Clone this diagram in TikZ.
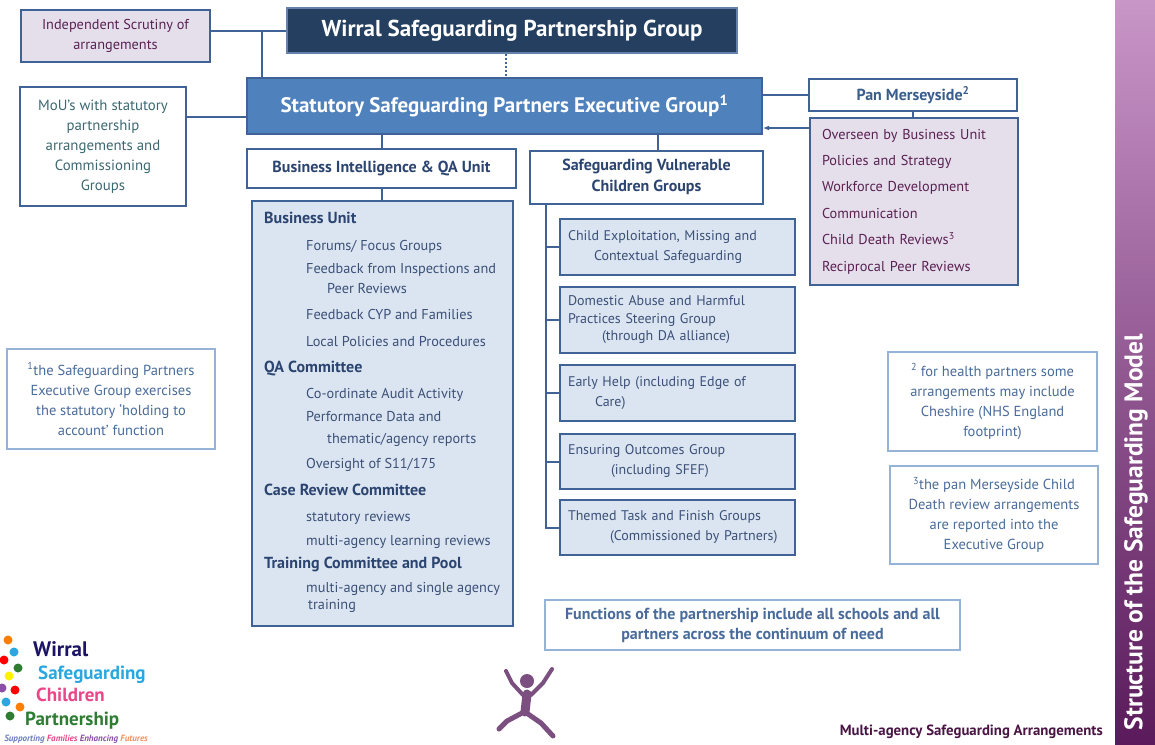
\documentclass[tikz,border=0pt]{standalone}
\usepackage{fontspec}
\setmainfont{PT Sans}
\usetikzlibrary{arrows.meta}

\definecolor{navy}{HTML}{243F60}
\definecolor{execblue}{HTML}{4F81BD}
\definecolor{edge}{HTML}{3F6396}
\definecolor{paleblue}{HTML}{DBE5F1}
\definecolor{lavender}{HTML}{E5DFEC}
\definecolor{plum}{HTML}{5A2152}
\definecolor{inktext}{HTML}{3C5078}
\definecolor{headtext}{HTML}{2B4470}
\definecolor{moutext}{HTML}{3D6870}
\definecolor{pantext}{HTML}{3A5E8C}
\definecolor{noteedge}{HTML}{95B3D7}
\definecolor{notetext}{HTML}{4A6C9B}
\definecolor{bandtop}{HTML}{C996C8}
\definecolor{bandbot}{HTML}{5A1A5B}
\definecolor{footer}{HTML}{4A1545}
\definecolor{jumper}{HTML}{7B4F80}
\definecolor{logonavy}{HTML}{1B1464}
\definecolor{logoblue}{HTML}{29A8E0}
\definecolor{logopink}{HTML}{E8488A}
\definecolor{logogreen}{HTML}{2E7D32}
\definecolor{logosteel}{HTML}{6A7FC0}
\definecolor{logopurple}{HTML}{8B4FA8}
\definecolor{logoorange}{HTML}{F39060}

\tikzset{
  box/.style={draw=edge, line width=2pt, inner sep=0pt, align=center,
    font=\fontsize{14.3}{20}\selectfont},
  group/.style={box, fill=paleblue, text=inktext, align=left,
    minimum width=235, text width=219, font=\fontsize{14}{20}\selectfont},
  note/.style={draw=noteedge, line width=1.5pt, inner sep=0pt, align=center,
    text=notetext, font=\fontsize{14.5}{20}\selectfont},
  link/.style={draw=edge, line width=2pt},
  head/.style={font=\bfseries\fontsize{19}{22}\selectfont, anchor=base west, inner sep=0pt}
}

\begin{document}
\begin{tikzpicture}[x=1pt,y=-1pt]
	\fill[white] (0,0) rectangle (1155,744);
	\useasboundingbox (0,0) rectangle (1155,744);

	% side band
	\fill[top color=bandtop, bottom color=bandbot] (1115,0) rectangle (1155,744);
	\node[rotate=90, text=white, font=\bfseries\fontsize{25.5}{28}\selectfont] (bandtitle) at (1136,532) {Structure of the Safeguarding Model};

	% top of the structure
	\node[box, fill=lavender, text=plum, minimum width=189, minimum height=52] (scrutiny) at (115.5,36) {Independent Scrutiny of\\arrangements};
	\node[box, fill=navy, draw=edge!80!white, text=white, minimum width=450, minimum height=45, font=\bfseries\fontsize{23}{26}\selectfont] (wsp) at (512,30.5) {Wirral Safeguarding Partnership Group};
	\node[box, fill=execblue, text=white, minimum width=515, minimum height=56, font=\bfseries\fontsize{21}{24}\selectfont] (exec) at (504.5,106) {Statutory Safeguarding Partners Executive Group\textsuperscript{1}};
	\node[box, text=moutext, font=\fontsize{14.8}{20}\selectfont, minimum width=166, minimum height=119] (mou) at (103,146.5) {MoU’s with statutory\\partnership\\arrangements and\\Commissioning\\Groups};

	% pan merseyside
	\node[box, text=pantext, minimum width=208, minimum height=32, font=\bfseries\fontsize{16}{18}\selectfont] (pan) at (913,95) {Pan Merseyside\textsuperscript{2}};
	\node[box, fill=lavender, text=plum, minimum width=208, minimum height=167, text width=184, align=left, font=\fontsize{14.3}{26.4}\selectfont] (panlist) at (914,201.5) {Overseen by Business Unit\\Policies and Strategy\\Workforce Development\\Communication\\Child Death Reviews\textsuperscript{3}\\Reciprocal Peer Reviews};

	% business intelligence column
	\node[box, text=headtext, minimum width=269, minimum height=39, font=\bfseries\fontsize{16}{18}\selectfont] (biqa) at (381.5,168.5) {Business Intelligence \& QA Unit};
	\node[box, fill=paleblue, line width=2.4pt, minimum width=261, minimum height=425] (bulist) at (382.5,413.5) {};
	\node[anchor=north west, align=left, inner sep=0pt, text=inktext, font=\fontsize{14.3}{20}\selectfont] (butext) at (264,212) {%
		\textbf{\fontsize{16}{20}\selectfont\color{headtext}Business Unit}\\[7pt]
		\hspace*{42pt}Forums/ Focus Groups\\[3pt]
		\hspace*{42pt}Feedback from Inspections and\\
		\hspace*{63pt}Peer Reviews\\[6pt]
		\hspace*{42pt}Feedback CYP and Families\\[7pt]
		\hspace*{42pt}Local Policies and Procedures\\[6pt]
		\textbf{\fontsize{16}{20}\selectfont\color{headtext}QA Committee}\\[6pt]
		\hspace*{42pt}Co-ordinate Audit Activity\\[3pt]
		\hspace*{42pt}Performance Data and\\[2pt]
		\hspace*{63pt}thematic/agency reports\\[5pt]
		\hspace*{42pt}Oversight of S11/175\\[7pt]
		\textbf{\fontsize{16}{20}\selectfont\color{headtext}Case Review Committee}\\[6pt]
		\hspace*{42pt}statutory reviews\\[4pt]
		\hspace*{42pt}multi-agency learning reviews\\[3pt]
		\textbf{\fontsize{16}{20}\selectfont\color{headtext}Training Committee and Pool}\\[4pt]
		\hspace*{42pt}multi-agency and single agency\\[-3pt]
		\hspace*{44pt}training};

	% vulnerable children groups
	\node[box, text=headtext, minimum width=233, minimum height=53, font=\bfseries\fontsize{16}{21}\selectfont] (svcg) at (646.5,177) {Safeguarding Vulnerable\\Children Groups};
	\node[group, minimum height=56] (cem) at (677.5,247) {Child Exploitation, Missing and\\\hspace*{26pt}Contextual Safeguarding};
	\node[group, minimum height=66, font=\fontsize{14}{17.5}\selectfont] (dahp) at (677.5,320) {Domestic Abuse and Harmful\\Practices Steering Group\\\hspace*{34pt}(through DA alliance)};
	\node[group, minimum height=56] (eh) at (677.5,393) {Early Help (including Edge of\\\hspace*{27pt}Care)};
	\node[group, minimum height=55] (eog) at (677.5,461.5) {Ensuring Outcomes Group\\\hspace*{43pt}(including SFEF)};
	\node[group, minimum height=55] (ttf) at (677.5,527.5) {Themed Task and Finish Groups\\\hspace*{42pt}(Commissioned by Partners)};

	% footnotes
	\node[note, minimum width=208, minimum height=100] (note1) at (111,399) {\textsuperscript{1}the Safeguarding Partners\\Executive Group exercises\\the statutory ‘holding to\\account’ function};
	\node[note, minimum width=209, minimum height=99] (note2) at (992.5,401.5) {\textsuperscript{2} for health partners some\\arrangements may include\\Cheshire (NHS England\\footprint)};
	\node[note, minimum width=208, minimum height=98] (note3) at (994,515) {\textsuperscript{3}the pan Merseyside Child\\Death review arrangements\\are reported into the\\Executive Group};
	\node[note, minimum width=415, minimum height=50, font=\bfseries\fontsize{16}{20}\selectfont] (functions) at (752.5,625) {Functions of the partnership include all schools and all\\partners across the continuum of need};

	% connectors
	\coordinate (jn) at (262,0);
	\coordinate (dot) at (506,0);
	\coordinate (mouline) at (186,117);
	\coordinate (back) at (810,128);
	\draw[link] (scrutiny.east |- wsp.west) -- (wsp.west);
	\draw[link] (jn |- wsp.west) -- (jn |- exec.north);
	\draw[link, dotted, line width=1.2pt] (dot |- wsp.south) -- (dot |- exec.north);
	\draw[link] (mouline) -- (mouline -| exec.west);
	\draw[link] (pan.west) -- (pan.west -| exec.east);
	\draw[link, -{Latex[length=6pt,width=5pt]}] (back) -- (back -| exec.east);
	\draw[link] (pan.south) -- (pan.south |- panlist.north);
	\draw[link] (biqa.north) -- (biqa.north |- exec.south);
	\draw[link] (biqa.south) -- (biqa.south |- bulist.north);
	\draw[link] (658,0 |- exec.south) -- (658,0 |- svcg.north);
	\coordinate (spine) at (546,0);
	\draw[link] (spine |- svcg.south) |- (ttf.west);
	\foreach \g in {cem,dahp,eh,eog}
		\draw[link] (spine |- \g.west) -- (\g.west);

	% logo
	\foreach \x/\y/\c in {8/640/orange, 14/652/logoblue, 4/660/red, 18/668/logogreen, 9/676/yellow, 2/688/logopurple, 15/690/red, 6/702/logoblue, 20/707/orange, 10/716/logogreen}
		\fill[\c] (\x,\y) circle (4.5);
	\node[head, text=logonavy, font=\bfseries\fontsize{21}{24}\selectfont] (lwirral) at (33,656) {Wirral};
	\node[head, text=logoblue] (lsafe) at (38,679) {Safeguarding};
	\node[head, text=logopink] (lchild) at (36,701) {Children};
	\node[head, text=logogreen] (lpart) at (25,725) {Partnership};
	\node[anchor=base east, inner sep=0pt, font=\bfseries\itshape\fontsize{9}{10}\selectfont] (ltag) at (148,741) {\color{logosteel}Supporting \color{logopink}Families \color{logopurple}Enhancing \color{logoorange}Futures};

	% jumping child
	\fill[jumper] (527,681) circle (7);
	\draw[jumper, line width=9pt, line cap=round, line join=round] (527,694) -- (525,712);
	\draw[jumper, line width=4pt, line cap=round, line join=round] (523,695) -- (512,683) -- (506,671);
	\draw[jumper, line width=4pt, line cap=round, line join=round] (531,695) -- (543,683) -- (552,669);
	\draw[jumper, line width=5pt, line cap=round, line join=round] (522,713) -- (507,721) -- (499,729);
	\draw[jumper, line width=5pt, line cap=round, line join=round] (528,714) -- (541,723) -- (553,736);

	\node[anchor=base east, inner sep=0pt, text=footer, font=\bfseries\fontsize{14.8}{16}\selectfont] (footer) at (1103,735) {Multi-agency Safeguarding Arrangements};
\end{tikzpicture}
\end{document}
